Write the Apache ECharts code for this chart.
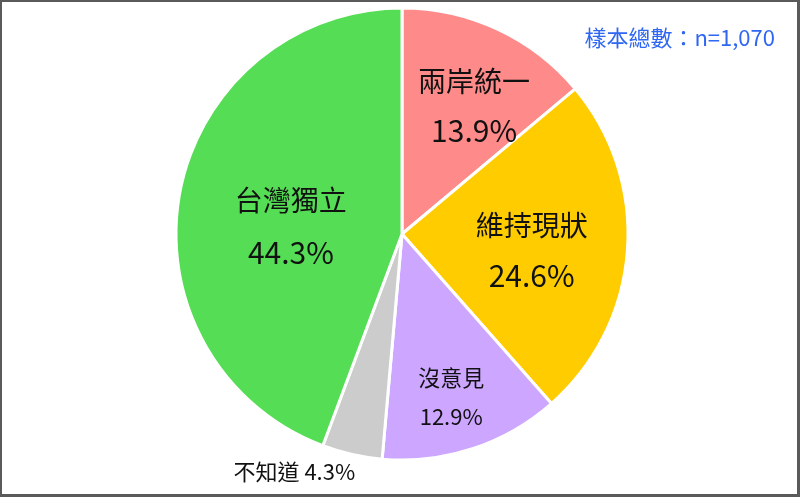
<!DOCTYPE html>
<html>
<head>
<meta charset="utf-8">
<script src="https://cdn.jsdelivr.net/npm/echarts@6/dist/echarts.min.js"></script>
<style>
html,body{margin:0;padding:0;background:#fff;}
#chart{position:absolute;left:0;top:0;width:800px;height:497px;}
#frame{position:absolute;left:0;top:0;width:800px;height:497px;box-sizing:border-box;
  border-left:2px solid #5a5a5a;border-top:2px solid #5a5a5a;border-right:3px solid #5a5a5a;border-bottom:3px solid #5a5a5a;pointer-events:none;}
</style>
</head>
<body>
<div id="chart"></div>
<div id="frame"></div>
<script>
const categories = ['兩岸統一', '維持現狀', '沒意見', '不知道', '台灣獨立'];
const values = [13.9, 24.6, 12.9, 4.3, 44.3];
const sampleNote = '樣本總數：n=1,070';

// styles (kept separate from data)
const colors = ['#FF8A8A', '#FFCC00', '#CCA6FF', '#CCCCCC', '#55DD55'];
const nameFontSizes = [28, 28, 22, 22, 28];
const valueFontSizes = [30, 30, 22, 22, 30];
const labelLineHeights = [49, 50, 39, 24, 52];
const labelOneLine = [false, false, false, true, false];
const labelShift = [[23, -23], [14, 8], [13, 53], [-82, 125], [3, 13]];

const FONT = '"Noto Sans CJK TC", "Noto Sans", sans-serif';

const data = categories.map((name, i) => ({
  name: name,
  value: values[i],
  itemStyle: { color: colors[i] },
  label: {
    formatter: p => labelOneLine[i]
      ? '{n|' + p.name + ' ' + p.value.toFixed(1) + '%}'
      : '{n|' + p.name + '}\n{v|' + p.value.toFixed(1) + '%}',
    rich: {
      n: { fontSize: nameFontSizes[i], lineHeight: labelLineHeights[i], color: '#111', fontFamily: FONT },
      v: { fontSize: valueFontSizes[i], lineHeight: labelLineHeights[i], color: '#111', fontFamily: FONT }
    }
  }
}));

const chart = echarts.init(document.getElementById('chart'), null, { renderer: 'canvas' });
chart.setOption({
  animation: false,
  backgroundColor: '#ffffff',
  title: {
    text: sampleNote,
    right: 20,
    top: 22,
    textStyle: { fontSize: 22, fontWeight: 'normal', color: '#2F66F2', fontFamily: FONT }
  },
  series: [{
    type: 'pie',
    center: [402, 234],
    radius: 226,
    startAngle: 90,
    clockwise: true,
    avoidLabelOverlap: false,
    emphasis: { disabled: true },
    itemStyle: { borderColor: '#ffffff', borderWidth: 3 },
    label: { show: true, position: 'inside', align: 'center', verticalAlign: 'middle' },
    labelLine: { show: false },
    labelLayout: p => ({ dx: labelShift[p.dataIndex][0], dy: labelShift[p.dataIndex][1] }),
    data: data
  }]
});
</script>
</body>
</html>
